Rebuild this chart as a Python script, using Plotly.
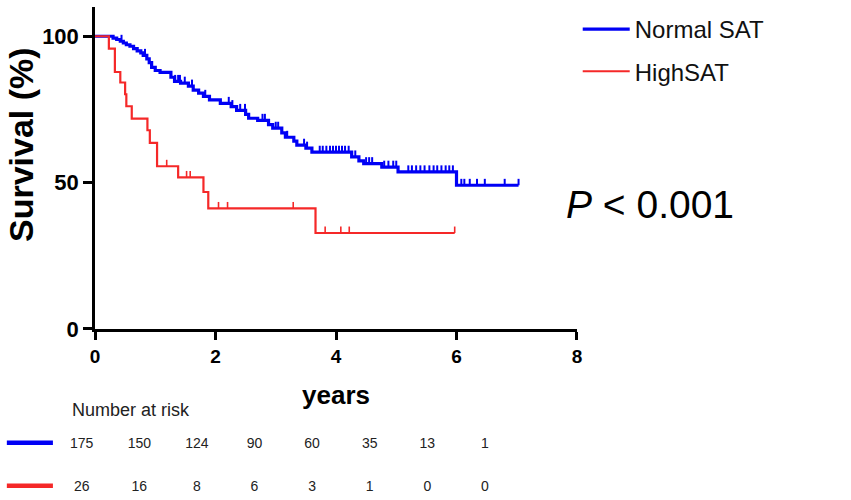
import plotly.graph_objects as go

# ---------------- data ----------------
normal_times = [0.30, 0.36, 0.42, 0.47, 0.52, 0.58, 0.64, 0.70, 0.76, 0.80, 0.86, 0.90, 0.94,
                1.00, 1.08, 1.26, 1.32, 1.42, 1.55, 1.63, 1.72, 1.80, 1.90, 2.08, 2.26, 2.35,
                2.50, 2.55, 2.70, 2.88, 2.95, 3.10, 3.16, 3.30, 3.35, 3.50, 3.60, 4.26, 4.38,
                4.46, 4.76, 5.03, 6.00]
normal_surv = [99.4, 98.9, 98.3, 97.7, 97.1, 96.6, 95.8, 95.0, 94.3, 93.5, 92.3, 91.0, 89.4,
               88.3, 87.7, 86.0, 84.6, 84.0, 83.0, 81.6, 80.6, 79.5, 78.3, 77.1, 76.0, 74.7,
               73.3, 72.0, 71.3, 69.8, 68.6, 67.0, 65.5, 64.2, 62.8, 61.8, 60.4, 58.8, 57.4,
               56.5, 55.3, 53.7, 49.1]
normal_end = 7.03
normal_censor = [0.44, 0.83, 1.33, 1.38, 1.41, 1.49, 1.61, 1.83, 2.22, 2.28, 2.41, 2.49, 2.78,
                 2.82, 3.00, 3.04, 3.19, 3.47, 3.52, 3.73, 3.78, 3.84, 3.90, 3.95, 4.00, 4.05,
                 4.10, 4.15, 4.21, 4.32, 4.50, 4.55, 4.60, 4.80, 4.87, 4.95, 5.00, 5.20, 5.26,
                 5.33, 5.40, 5.47, 5.55, 5.62, 5.68, 5.75, 5.82, 5.88, 5.94, 6.08, 6.13, 6.22,
                 6.34, 6.47, 6.80, 7.03]

high_times = [0.23, 0.33, 0.42, 0.50, 0.52, 0.61, 0.87, 0.91, 1.03, 1.38, 1.80, 1.88, 3.66]
high_surv = [95.8, 87.8, 84.2, 80.2, 76.1, 71.9, 67.9, 63.6, 55.6, 51.8, 46.8, 41.2, 32.8]
high_end = 5.97
high_censor = [1.19, 1.52, 1.58, 2.05, 2.20, 3.29, 3.82, 4.08, 4.22, 5.97]

risk_cols = [0, 1, 2, 3, 4, 5, 6, 7]
normal_risk = [175, 150, 124, 90, 60, 35, 13, 1]
high_risk = [26, 16, 8, 6, 3, 1, 0, 0]

x_ticks = [0, 2, 4, 6, 8]
y_ticks = [0, 50, 100]

BLUE = "#0000F5"
RED = "#F52828"
FONT = "Liberation Sans, Arial, sans-serif"


def step_value(times, surv, t):
    v = 100.0
    for ti, si in zip(times, surv):
        if ti <= t:
            v = si
    return v


def line_xy(times, surv, end):
    xs = [0.0] + list(times) + [end]
    ys = [100.0] + list(surv) + [surv[-1]]
    return xs, ys


fig = go.Figure()

groups = [
    ("Normal SAT", normal_times, normal_surv, normal_end, normal_censor, BLUE, 3.2, 2.0, "g1"),
    ("HighSAT", high_times, high_surv, high_end, high_censor, RED, 2.2, 1.6, "g2"),
]
for name, times, surv, end, cens, color, lw, tw, grp in groups:
    xs, ys = line_xy(times, surv, end)
    fig.add_trace(go.Scatter(
        x=xs, y=ys, mode="lines", line=dict(color=color, width=lw, shape="hv"),
        name=name, legendgroup=grp, xaxis="x", yaxis="y"))
    fig.add_trace(go.Scatter(
        x=cens, y=[step_value(times, surv, c) for c in cens], mode="markers",
        marker=dict(size=1, color=color, opacity=0),
        error_y=dict(type="data", symmetric=False, array=[2.2] * len(cens),
                     arrayminus=[0] * len(cens), width=0, thickness=tw, color=color),
        showlegend=False, legendgroup=grp, hoverinfo="skip", xaxis="x", yaxis="y"))

# risk table (second, hidden subplot)
for row, vals, color in [(1, normal_risk, BLUE), (2, high_risk, RED)]:
    fig.add_trace(go.Scatter(
        x=risk_cols, y=[row] * len(risk_cols), mode="text", text=[str(v) for v in vals],
        textfont=dict(family=FONT, size=14, color="#222"), showlegend=False,
        xaxis="x2", yaxis="y2", hoverinfo="skip"))
    fig.add_trace(go.Scatter(
        x=[-1.30, -0.50], y=[row - 0.05, row - 0.05], mode="lines",
        line=dict(color=color, width=4.5), showlegend=False,
        xaxis="x2", yaxis="y2", hoverinfo="skip"))

axis_font = dict(family=FONT, size=19, color="black", weight="bold")

fig.update_layout(
    template="none",
    width=851, height=500,
    margin=dict(l=5, r=5, t=5, b=5, autoexpand=False),
    paper_bgcolor="white", plot_bgcolor="white",
    xaxis=dict(domain=[0.10702, 0.68014], range=[0, 8], tickvals=x_ticks, automargin=False,
               showline=True, linecolor="black", linewidth=2.5, ticks="outside",
               ticklen=8, tickwidth=2.5, tickcolor="black", showgrid=False, zeroline=False,
               tickfont=axis_font, anchor="y",
               title=dict(text="years", font=dict(family=FONT, size=26, color="black",
                                                   weight="bold"), standoff=21)),
    yaxis=dict(domain=[0.33878, 0.99592], range=[0, 110], tickvals=y_ticks, automargin=False,
               showline=True, linecolor="black", linewidth=2.5, ticks="outside",
               ticklen=9, tickwidth=2.5, tickcolor="black", showgrid=False, zeroline=False,
               tickfont=dict(family=FONT, size=22, color="black", weight="bold"), anchor="x"),
    xaxis2=dict(domain=[0, 1], range=[-1.332, 13.27], visible=False, anchor="y2",
                automargin=False),
    yaxis2=dict(domain=[0, 0.2], range=[2.163, -0.116], visible=False, anchor="x2",
                automargin=False),
    showlegend=True,
    legend=dict(x=0.681, y=0.996, xanchor="left", yanchor="top", itemwidth=47,
                font=dict(family=FONT, size=24, color="#111"), tracegroupgap=8,
                bgcolor="rgba(0,0,0,0)", traceorder="grouped", borderwidth=0),
    annotations=[
        dict(text="Survival (%)", textangle=-90, xref="paper", yref="paper",
             x=(21 - 5) / 841, y=(495 - 145) / 490, xanchor="center", yanchor="middle",
             showarrow=False, font=dict(family=FONT, size=34, color="black", weight="bold")),
        dict(text="<i>P</i> < 0.001", xref="paper", yref="paper",
             x=(564 - 5) / 841, y=(495 - 204) / 490, xanchor="left", yanchor="middle",
             showarrow=False, font=dict(family=FONT, size=39, color="black")),
        dict(text="Number at risk", xref="x2", yref="y2", x=-0.2, y=0.186,
             xanchor="left", yanchor="middle", showarrow=False,
             font=dict(family=FONT, size=18, color="#222")),
    ],
)

fig.write_html("out.html", config={"displayModeBar": False},
               post_script="document.body.style.margin='0';")
